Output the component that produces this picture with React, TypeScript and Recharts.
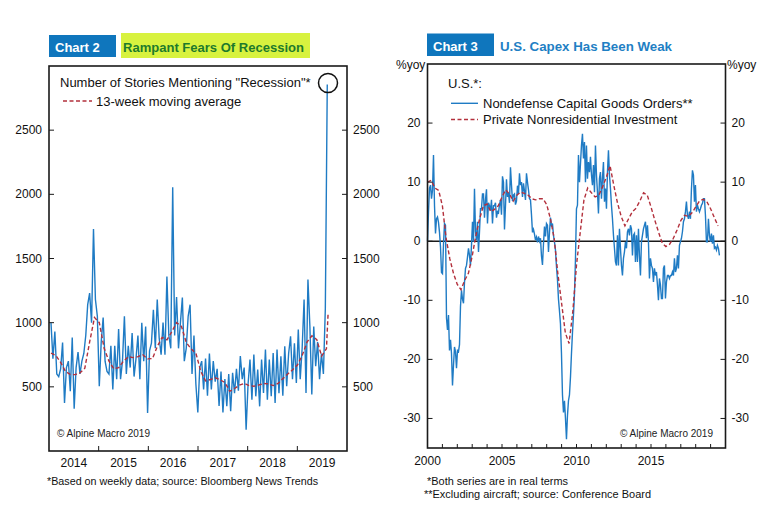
import React from "react";
import { LineChart, Line, XAxis, YAxis, ReferenceLine } from "recharts";

// ─── Chart 2: stories mentioning "recession" ────────────────────────────────

const STORIES_START = 2014.04;
const STORIES_STEP = 0.0389; // about two weeks

const storiesValues = [
  // 2014
  1000, 720, 930, 600, 580, 640, 845, 375, 650, 700, 465, 885, 330, 650, 770, 600, 700, 760, 900, 1140, 1230, 1000, 1730, 1180, 1050, 505,
  // 2015
  850, 1040, 700, 620, 600, 820, 480, 820, 560, 950, 560, 700, 1050, 600, 820, 650, 920, 580, 720, 900, 560, 1000, 700, 970, 297, 780,
  // 2016
  840, 1100, 800, 1180, 880, 750, 1000, 750, 1360, 900, 800, 2055, 900, 1200, 800, 1000, 1195, 700, 800, 1050, 1140, 600, 900, 520, 300, 650,
  // 2017
  700, 480, 720, 430, 760, 480, 700, 540, 640, 350, 620, 300, 560, 350, 600, 310, 610, 450, 640, 470, 740, 560, 650, 166, 520, 712,
  // 2018
  400, 751, 426, 634, 348, 712, 452, 790, 400, 712, 426, 764, 374, 790, 450, 738, 430, 816, 504, 760, 894, 560, 840, 530, 946, 560,
  // 2019
  800, 1180, 452, 1336, 972, 440, 970, 660, 850, 560, 760, 600, 1110, 2855,
];

const MA_STEP = 0.0973; // five weeks
const movingAvgValues = [
  763, 745, 690, 620, 596, 595, 609, 645, 850, 1040,
  1000, 800, 700, 640, 650, 700, 735, 728, 735, 750,
  718, 720, 815, 885, 866, 930, 1000, 970, 845, 796,
  760, 620, 546, 557, 570, 555, 533, 465, 487, 513,
  527, 510, 505, 514, 526, 523, 510, 526, 564, 600,
  633, 670, 746, 850, 898, 868, 740, 797,
];
const MA_LAST_DATE = 2019.62;
const MA_LAST_VALUE = 1078;

const storiesTicks = [500, 1000, 1500, 2000, 2500];
const storiesXTicks = [2014.5, 2015, 2015.5, 2016, 2016.5, 2017, 2017.5, 2018, 2018.5, 2019, 2019.5];

// ─── Chart 3: US capex ──────────────────────────────────────────────────────

const ORDERS_START = 2000;
const ORDERS_STEP = 0.0671;
const ordersValues = [
  0, 5, 9, 9.5, 7.2, 8.6, 14.6, 6.1, 1.3, 3.8,
  4.1, 3.2, 1.5, -1, -5.3, -5.5, -0.5, 3, 2.7, -13,
  -15, -12.5, -18.5, -16.7, -19, -24.4, -21, -17.9, -18.7, -21.5,
  -18.5, -18.7, -17.5, -11, -8.3, -9.8, -10.5, -7, -4.6, -4.1,
  -2.7, -1.2, -2.4, -4.1, -0.7, 3.3, -0.1, 8.9, 1.6, 0.2,
  3.3, -1.8, 1.6, 5.5, 5.5, 8, 8, 4, 7, 8.8,
  3, 6.5, 6, 5.2, 7, 3, 6, 6, 6.5, 4,
  5, 4.8, 6.2, 7, 4.5, 11, 10, 2, 6, 10.5,
  7.5, 8.2, 6.5, 12.5, 9.5, 6.8, 7.8, 8, 6.2, 6.8,
  9.4, 8, 11.5, 9.5, 10, 7.5, 9.8, 8.5, 7, 11.5,
  10, 8.7, 7.2, 7, 4.5, 1.5, 2, 1.2, 0.2, 0.7,
  -0.2, 0.8, 0, 0.5, -2.5, -4, -0.5, 2.5, 0.8, 3,
  2.7, -1.8, 1.5, 4, 2.5, 3, 1, -0.1, -1.5, -4.3,
  -6.5, -9.8, -11.8, -14, -19, -26, -29, -27, -30, -33.5,
  -29.5, -27, -26, -23, -19, -15.5, -12.5, -9, -3,
  5.5, 6.1, 14.6, 10, 13.1, 16.2, 18.2, 14, 16.8, 10,
  16.2, 10.6, 13.4, 11.7, 14.3, 11.2, 9.5, 12.9, 8.3, 16.2,
  11.2, 8.3, 4.7, 10.6, 11.7, 7.2, 10.6, 13.4, 6.7, 8.9,
  5.5, 11.7, 15.4, 11.2, 8.9, 6.1, 3.8, 1, -1.2, -3.5,
  -4.1, 1, -4.1, 2.1, -1.2, -4.1, -5.8, -2.9, -1.8, -0.1,
  -1.2, 1.6, 2.1, 1, 2.7, 2.1, -2.4, 1, 1.3, -3.5,
  1, -3.5, 2.1, -2.4, -5.8, -0.1, 1, 2.1, 2.7, 3.3,
  0.5, 2.7, -0.1, -6.3, -2.9, -4.1, -4.6, -6.9, -4.6, -5.8,
  -5.2, -7.4, -10, -6.3, -7.4, -9.7, -9.7, -4.6, -4.1, -9.7,
  -6.9, -5.8, -5.8, -6.3, -5.8, -5.8, -5.2, -5.8, -2.9, -5.2,
  -4.6, -2.4, -4.6, -0.7, -0.1, 0.5, 1.6, 3.3, 3.8, 5,
  6.7, 4.4, 3.8, 5, 3.8, 8.9, 12, 11.2, 6.7, 9.5,
  5, 6.1, 5.5, 5, 5.5, 6.1, 6.4, 7.2, 7.2, 4.4,
  -0.1, -0.1, 3.8, 1, -0.1, 1.3, -0.4, 1, -1.2, -1,
  -1.5, -0.7, -1.2, -2.4,
];

const INVEST_START = 2000;
const INVEST_STEP = 0.25; // quarterly
const investValues = [
  10, 10.3, 9, 8.6, 6, 0.5, -3, -5.5, -7.3, -8.2,
  -6.6, -5.4, -2.5, 1, 3.8, 6, 6.3, 5, 5.4, 6,
  7.5, 8.7, 8, 6.8, 7.8, 8.3, 8.1, 7.8, 7.2, 7,
  7.2, 7.2, 6.2, 3.8, 0.5, -5.5, -10.5, -15.5, -17.3, -12,
  -4, 1.5, 7, 9, 8.2, 7.5, 7.8, 9.2, 10.8, 12.8,
  9.5, 6.5, 4.2, 2.6, 3.8, 5, 5.6, 6.8, 8.2, 7.8,
  5.8, 3.6, 1.6, -0.3, -0.9, -0.5, 0.5, 1.9, 3.5, 4.4,
  4.2, 4.8, 5.8, 6.8, 7.1, 6.7, 5.5, 4, 2.6,
];

const capexTicks = [-30, -20, -10, 0, 10, 20];
const capexXTicks = [2000, 2001, 2002, 2003, 2004, 2005, 2006, 2007, 2008, 2009, 2010,
  2011, 2012, 2013, 2014, 2015, 2016, 2017, 2018, 2019];

// ─── Series tables ──────────────────────────────────────────────────────────

const storiesData = storiesValues.map((v, i) => ({ x: STORIES_START + i * STORIES_STEP, v }));
const movingAvgData = [
  ...movingAvgValues.map((v, i) => ({ x: STORIES_START + i * MA_STEP, v })),
  { x: MA_LAST_DATE, v: MA_LAST_VALUE },
];
const ordersData = ordersValues.map((v, i) => ({ x: ORDERS_START + i * ORDERS_STEP, v }));
const investData = investValues.map((v, i) => ({ x: INVEST_START + i * INVEST_STEP, v }));

// ─── Style ──────────────────────────────────────────────────────────────────

const FONT = "'Liberation Sans', Arial, Helvetica, sans-serif";
const BLUE = "#1f7bc4";
const RED = "#b3303c";
const INK = "#1a1a1a";
const W = 763;
const H = 510;
const AXW = 30; // room given to each axis
const AXH = 30;

// frames of the two plot areas
const F2 = { x: 49, y: 66, w: 298, h: 385 };
const F3 = { x: 427.5, y: 64, w: 298, h: 384 };

function marginsFor(f: { x: number; y: number; w: number; h: number }) {
  return {
    left: f.x - AXW,
    top: f.y,
    right: W - f.x - f.w,
    bottom: H - f.y - f.h - AXH,
  };
}

// ─── Ticks ──────────────────────────────────────────────────────────────────

// one tick per value, drawn on both sides of the frame (inward marks)
function YTick({ x, y, payload, span }: any) {
  const xr = x + span;
  return (
    <g>
      <line x1={x} y1={y} x2={x + 5} y2={y} stroke={INK} strokeWidth={1} />
      <text x={x - 7} y={y} dy={4} textAnchor="end" fontSize={12} fontFamily={FONT} fill="#111">
        {payload.value}
      </text>
      <line x1={xr} y1={y} x2={xr - 5} y2={y} stroke={INK} strokeWidth={1} />
      <text x={xr + 6} y={y} dy={4} textAnchor="start" fontSize={12} fontFamily={FONT} fill="#111">
        {payload.value}
      </text>
    </g>
  );
}

function StoriesXTick({ x, y, payload }: any) {
  const v = payload.value as number;
  if (Number.isInteger(v)) {
    return <line x1={x} y1={y} x2={x} y2={y - 5} stroke={INK} strokeWidth={1} />;
  }
  return (
    <text x={x} y={y} dy={16} textAnchor="middle" fontSize={12} fontFamily={FONT} fill="#111">
      {Math.floor(v)}
    </text>
  );
}

function CapexXTick({ x, y, payload }: any) {
  const v = payload.value as number;
  return (
    <g>
      {v > 2000 && <line x1={x} y1={y} x2={x} y2={y - 4} stroke={INK} strokeWidth={1} />}
      {v % 5 === 0 && (
        <text x={x} y={y} dy={17} textAnchor="middle" fontSize={12} fontFamily={FONT} fill="#111">
          {v}
        </text>
      )}
    </g>
  );
}

const axisCommon = {
  axisLine: false,
  tickLine: false,
  tickSize: 0,
  tickMargin: 0,
  interval: 0 as const,
};

// ─── Charts ─────────────────────────────────────────────────────────────────

function StoriesChart() {
  return (
    <LineChart width={W} height={H} margin={marginsFor(F2)}>
      <XAxis dataKey="x" type="number" domain={[2014, 2020]} ticks={storiesXTicks}
        height={AXH} {...axisCommon} tick={<StoriesXTick />} />
      <YAxis domain={[0, 3000]} ticks={storiesTicks} width={AXW}
        {...axisCommon} tick={<YTick span={F2.w} />} />
      <Line data={storiesData} dataKey="v" type="linear" stroke={BLUE} strokeWidth={1.4}
        dot={false} isAnimationActive={false} />
      <Line data={movingAvgData} dataKey="v" type="linear" stroke={RED} strokeWidth={1.4}
        strokeDasharray="4 2.5" dot={false} isAnimationActive={false} />
    </LineChart>
  );
}

function CapexChart() {
  return (
    <LineChart width={W} height={H} margin={marginsFor(F3)}>
      <XAxis dataKey="x" type="number" domain={[2000, 2020]} ticks={capexXTicks}
        height={AXH} {...axisCommon} tick={<CapexXTick />} />
      <YAxis domain={[-35, 30]} ticks={capexTicks} width={AXW}
        {...axisCommon} tick={<YTick span={F3.w} />} />
      <ReferenceLine y={0} stroke={INK} strokeWidth={1.3} />
      <Line data={ordersData} dataKey="v" type="linear" stroke={BLUE} strokeWidth={1.4}
        dot={false} isAnimationActive={false} />
      <Line data={investData} dataKey="v" type="linear" stroke={RED} strokeWidth={1.4}
        strokeDasharray="4 2.5" dot={false} isAnimationActive={false} />
    </LineChart>
  );
}

// ─── Overlay: titles, legends, frames, notes ────────────────────────────────

function Overlay() {
  return (
    <svg width={W} height={H} style={{ position: "absolute", left: 0, top: 0, pointerEvents: "none" }}
      fontFamily={FONT}>
      {/* Chart 2 title */}
      <rect x={49} y={35} width={67} height={22} fill="#0f76bd" />
      <text x={55} y={51.5} fontSize={13} fontWeight={700} fill="#fff">Chart 2</text>
      <rect x={121} y={33} width={189} height={25} fill="#d8f23f" />
      <text x={123} y={51.5} fontSize={13} fontWeight={700} fill="#1d7a2c" textLength={181}
        lengthAdjust="spacingAndGlyphs">Rampant Fears Of Recession</text>

      {/* Chart 3 title */}
      <rect x={427} y={33.5} width={67} height={22.5} fill="#0f76bd" />
      <text x={433} y={50.7} fontSize={13} fontWeight={700} fill="#fff">Chart 3</text>
      <text x={500} y={50.7} fontSize={13} fontWeight={700} fill="#1f7fc4" textLength={172}
        lengthAdjust="spacingAndGlyphs">U.S. Capex Has Been Weak</text>

      {/* frames */}
      <rect x={F2.x} y={F2.y} width={F2.w} height={F2.h} fill="none" stroke={INK} strokeWidth={1.6} />
      <rect x={F3.x} y={F3.y} width={F3.w} height={F3.h} fill="none" stroke={INK} strokeWidth={1.6} />

      {/* Chart 2 legend */}
      <text x={60} y={87} fontSize={13} fill="#111">{'Number of Stories Mentioning "Recession"*'}</text>
      <line x1={63} y1={101} x2={92} y2={101} stroke={RED} strokeWidth={1.4} strokeDasharray="4 2.5" />
      <text x={96} y={105.5} fontSize={13} fill="#111">13-week moving average</text>
      <circle cx={328} cy={83} r={9.5} fill="none" stroke="#111" strokeWidth={1.5} />
      <text x={57} y={437} fontSize={10} fill="#222">© Alpine Macro 2019</text>

      {/* Chart 3 legend */}
      <text x={396} y={68.5} fontSize={12} fill="#111">%yoy</text>
      <text x={727} y={68.5} fontSize={12} fill="#111">%yoy</text>
      <text x={448} y={88} fontSize={13} fill="#111">U.S.*:</text>
      <line x1={451} y1={103.3} x2={478} y2={103.3} stroke={BLUE} strokeWidth={1.4} />
      <text x={483} y={108} fontSize={13} fill="#111">Nondefense Capital Goods Orders**</text>
      <line x1={451} y1={119.5} x2={478} y2={119.5} stroke={RED} strokeWidth={1.4} strokeDasharray="4 2.5" />
      <text x={483} y={124} fontSize={13} fill="#111">Private Nonresidential Investment</text>
      <text x={713} y={437} fontSize={10} fill="#222" textAnchor="end">© Alpine Macro 2019</text>

      {/* footnotes */}
      <text x={47} y={485} fontSize={11} fill="#111" textLength={271}
        lengthAdjust="spacingAndGlyphs">*Based on weekly data; source: Bloomberg News Trends</text>
      <text x={427} y={485} fontSize={11} fill="#111" textLength={141}
        lengthAdjust="spacingAndGlyphs">*Both series are in real terms</text>
      <text x={424} y={498} fontSize={11} fill="#111" textLength={227}
        lengthAdjust="spacingAndGlyphs">**Excluding aircraft; source: Conference Board</text>
    </svg>
  );
}

export default function App() {
  return (
    <div style={{ position: "absolute", left: 0, top: 0, width: W, height: H, background: "#fff", fontFamily: FONT }}>
      <div style={{ position: "absolute", left: 0, top: 0 }}>
        <StoriesChart />
      </div>
      <div style={{ position: "absolute", left: 0, top: 0 }}>
        <CapexChart />
      </div>
      <Overlay />
    </div>
  );
}
